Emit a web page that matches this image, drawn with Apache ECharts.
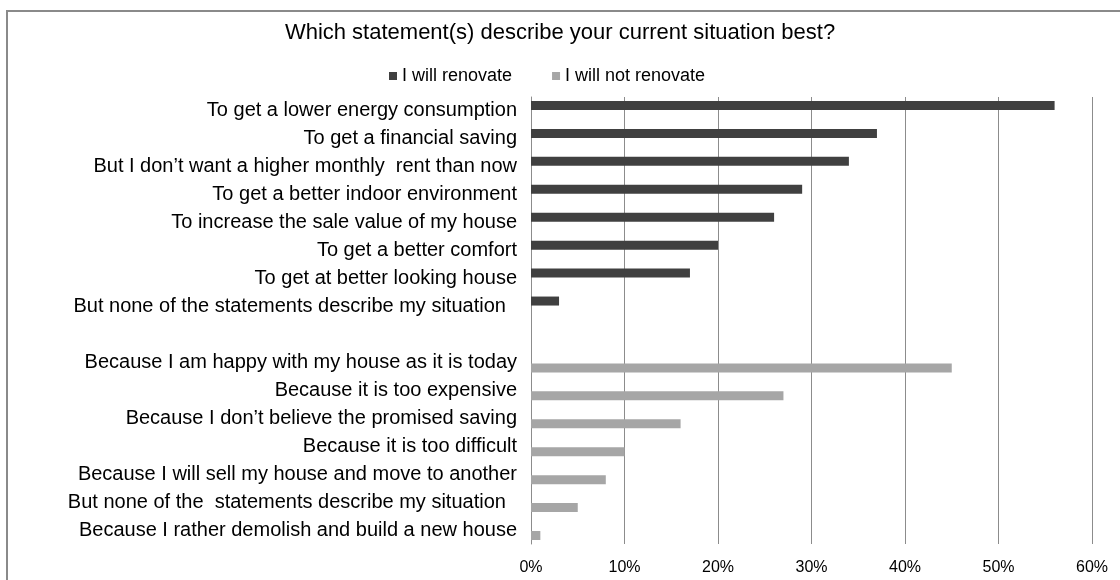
<!DOCTYPE html>
<html>
<head>
<meta charset="utf-8">
<script src="https://cdn.jsdelivr.net/npm/echarts@6/dist/echarts.min.js"></script>
<style>
  html, body { margin: 0; padding: 0; background: #ffffff; }
  #chart { width: 1120px; height: 580px; }
</style>
</head>
<body>
<div id="chart"></div>
<script>
// Survey answers, top to bottom; the empty entry separates the two groups.
const categories = [
  'To get a lower energy consumption',
  'To get a financial saving',
  'But I don\u2019t want a higher monthly  rent than now',
  'To get a better indoor environment',
  'To increase the sale value of my house',
  'To get a better comfort',
  'To get at better looking house',
  'But none of the statements describe my situation  ',
  '',
  'Because I am happy with my house as it is today',
  'Because it is too expensive',
  'Because I don\u2019t believe the promised saving',
  'Because it is too difficult',
  'Because I will sell my house and move to another',
  'But none of the  statements describe my situation  ',
  'Because I rather demolish and build a new house'
];

// Share of respondents (%) per statement.
const willRenovate = [56, 37, 34, 29, 26, 20, 17, 3, null, null, null, null, null, null, null, null];
const willNotRenovate = [null, null, null, null, null, null, null, null, null, 45, 27, 16, 10, 8, 5, 1];

const xTicks = [0, 10, 20, 30, 40, 50, 60];

const FONT = '"Liberation Sans", Arial, sans-serif';

const chart = echarts.init(document.getElementById('chart'), null, { renderer: 'canvas' });

chart.setOption({
  backgroundColor: '#ffffff',
  animation: false,
  title: {
    text: 'Which statement(s) describe your current situation best?',
    left: 'center',
    top: 17,
    textStyle: { fontFamily: FONT, fontSize: 22, fontWeight: 'normal', color: '#000000' }
  },
  legend: {
    top: 62,
    left: 384,
    icon: 'rect',
    itemWidth: 8,
    itemHeight: 8,
    itemGap: 40,
    textStyle: { fontFamily: FONT, fontSize: 18, color: '#000000' },
    data: ['I will renovate', 'I will not renovate']
  },
  grid: { left: 531, right: 28, top: 97, bottom: 36, containLabel: false },
  xAxis: {
    type: 'value',
    min: xTicks[0],
    max: xTicks[xTicks.length - 1],
    interval: 10,
    axisLine: { show: false },
    axisTick: { show: false },
    axisLabel: {
      formatter: '{value}%',
      margin: 16,
      fontFamily: FONT, fontSize: 16, color: '#000000'
    },
    splitLine: { show: true, lineStyle: { color: '#8c8c8c', width: 1 } }
  },
  yAxis: {
    type: 'category',
    inverse: true,
    data: categories,
    axisLine: { show: true, lineStyle: { color: '#8c8c8c', width: 1 } },
    axisTick: { show: false },
    axisLabel: {
      margin: 14,
      interval: 0,
      fontFamily: FONT, fontSize: 20, color: '#000000'
    },
    splitLine: { show: false }
  },
  series: [
    {
      name: 'I will renovate',
      type: 'bar',
      data: willRenovate,
      barWidth: 9,
      barGap: '22%',
      itemStyle: { color: '#404040' }
    },
    {
      name: 'I will not renovate',
      type: 'bar',
      data: willNotRenovate,
      barWidth: 9,
      barGap: '22%',
      itemStyle: { color: '#a6a6a6' }
    }
  ],
  graphic: [
    {
      type: 'rect',
      shape: { x: 7, y: 11, width: 1130, height: 590 },
      style: { fill: 'none', stroke: '#8a8a8a', lineWidth: 2 },
      silent: true
    }
  ]
});
</script>
</body>
</html>
